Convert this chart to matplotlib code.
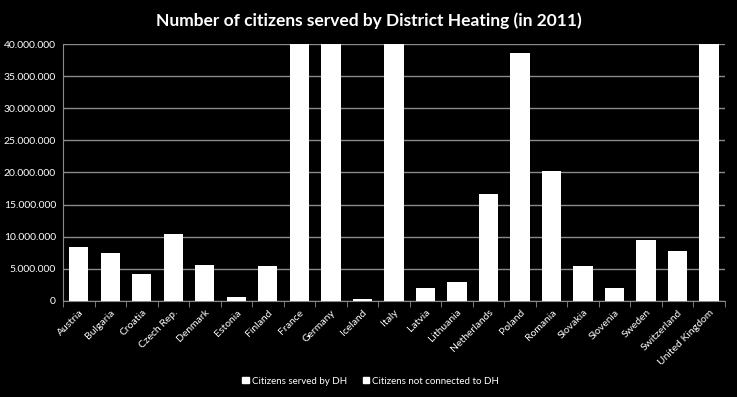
import matplotlib.pyplot as plt
from matplotlib.ticker import FuncFormatter
from matplotlib.patches import Patch
import numpy as np

plt.rcParams['font.family'] = ['Lato', 'DejaVu Sans']

countries = ["Austria", "Bulgaria", "Croatia", "Czech Rep.", "Denmark", "Estonia",
             "Finland", "France", "Germany", "Iceland", "Italy", "Latvia", "Lithuania",
             "Netherlands", "Poland", "Romania", "Slovakia", "Slovenia", "Sweden",
             "Switzerland", "United Kingdom"]
# visible bar heights (bars above 40M are cut off in the original)
citizens_total = [8.4e6, 7.45e6, 4.2e6, 10.45e6, 5.55e6, 0.62e6,
                  5.4e6, 65.0e6, 81.8e6, 0.36e6, 59.4e6, 2.07e6, 3.0e6,
                  16.65e6, 38.55e6, 20.2e6, 5.4e6, 2.07e6, 9.5e6,
                  7.7e6, 63.0e6]
series_names = ["Citizens served by DH", "Citizens not connected to DH"]

fig = plt.figure(figsize=(7.37, 3.97), dpi=100, facecolor="black")
ax = fig.add_axes([0.0855, 0.242, 0.898, 0.647], facecolor="black")

x = np.arange(len(countries))
ax.bar(x, citizens_total, width=0.61, color="white", zorder=3)

ax.set_ylim(0, 40e6)
ax.set_xlim(-0.5, len(countries) - 0.5)
ax.set_yticks(np.arange(0, 40e6 + 1, 5e6))
ax.yaxis.set_major_formatter(FuncFormatter(lambda v, p: f"{int(v):,}".replace(",", ".")))
ax.grid(axis="y", color="#8a8a8a", linewidth=1, zorder=0)

ax.set_xticks(x)
ax.set_xticklabels(countries, rotation=45, ha="right", rotation_mode="anchor")
ax.set_xticks(np.arange(-0.5, len(countries)), minor=True)
ax.tick_params(axis="x", which="major", length=0, colors="white", labelsize=7.5, pad=5)
ax.tick_params(axis="x", which="minor", length=4, color="#8a8a8a")
ax.tick_params(axis="y", length=0, colors="white", labelsize=7.5, pad=5)

for s in ["top", "right"]:
    ax.spines[s].set_visible(False)
for s in ["left", "bottom"]:
    ax.spines[s].set_color("#8a8a8a")

fig.text(0.5, 0.948, "Number of citizens served by District Heating (in 2011)",
         ha="center", va="center", color="white", fontsize=12.5, fontweight="bold")

handles = [Patch(facecolor="white", edgecolor="white") for _ in series_names]
fig.legend(handles, series_names, loc="center", bbox_to_anchor=(0.503, 0.04),
           ncol=2, frameon=False, fontsize=7, labelcolor="white",
           handlelength=0.65, handleheight=0.65, handletextpad=0.35, columnspacing=1.6)

fig.savefig("out.png", dpi=100, facecolor="black")
